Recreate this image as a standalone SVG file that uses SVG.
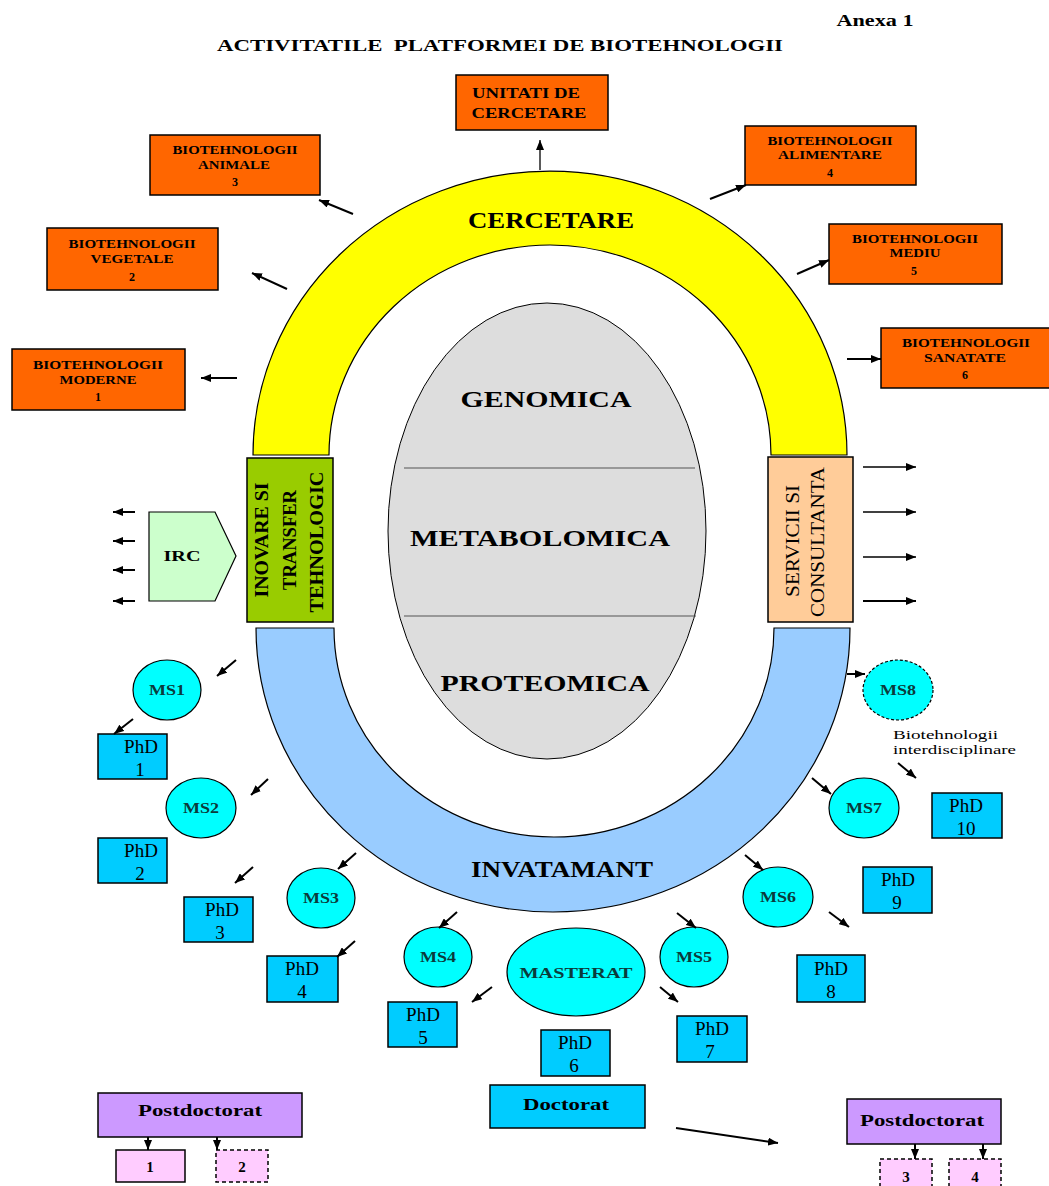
<svg xmlns="http://www.w3.org/2000/svg" width="1049" height="1186" viewBox="0 0 1049 1186">
<style>
text{font-family:"Liberation Serif","Times New Roman",serif;fill:#000}
.b{font-weight:bold}
.c{text-anchor:middle}
.org{fill:#FF6600;stroke:#000;stroke-width:1.5}
.phd{fill:#00CCFF;stroke:#000;stroke-width:1.5}
.ms{fill:#00FFFF;stroke:#000;stroke-width:1.2}
.mst{font-size:15px;font-weight:bold;text-anchor:middle;fill:#0b3b3b}
.pt{font-size:19px;text-anchor:middle}
.bt{font-size:12px;font-weight:bold;text-anchor:middle}
.big{font-size:24px;font-weight:bold;text-anchor:middle}
.ar{stroke:#000;stroke-width:2;fill:none;marker-end:url(#ah)}
.ar1{stroke:#000;stroke-width:1.3;fill:none;marker-end:url(#ah)}
.pink{fill:#FFCCFF;stroke:#000;stroke-width:1.5}
.dash{stroke-dasharray:4,3}
</style>
<defs>
<marker id="ah" markerUnits="userSpaceOnUse" markerWidth="10" markerHeight="8" refX="10" refY="4" orient="auto"><path d="M0,0 L10,4 L0,8 Z" fill="#000"/></marker>
</defs>
<rect width="1049" height="1186" fill="#fff"/>

<g id="title">
<text class="b c" x="500" y="51" font-size="16" textLength="566" lengthAdjust="spacingAndGlyphs" style="white-space:pre">ACTIVITATILE  PLATFORMEI DE BIOTEHNOLOGII</text>
<text class="b c" x="875" y="26" font-size="16" textLength="77" lengthAdjust="spacingAndGlyphs">Anexa 1</text>
</g>

<g id="cercetare">
<path d="M253,455 A297,284 0 0 1 847,455 L771,455 A221,210 0 0 0 329,455 Z" fill="#FFFF00" stroke="#000" stroke-width="1.2"/>
<text class="big" x="551" y="228" textLength="166" lengthAdjust="spacingAndGlyphs">CERCETARE</text>
</g>

<g id="invatamant">
<path d="M256,628 A297,284 0 0 0 850,628 L774,628 A220,209 0 0 1 334,628 Z" fill="#99CCFF" stroke="#000" stroke-width="1.2"/>
<text class="big" x="562" y="877" textLength="182" lengthAdjust="spacingAndGlyphs">INVATAMANT</text>
</g>

<g id="center">
<ellipse cx="547" cy="531" rx="159" ry="228" fill="#DDDDDD" stroke="#000" stroke-width="1"/>
<line x1="404" y1="468" x2="695" y2="468" stroke="#555" stroke-width="1.2"/>
<line x1="404" y1="616" x2="696" y2="616" stroke="#555" stroke-width="1.2"/>
<text class="big" x="546" y="407" textLength="171" lengthAdjust="spacingAndGlyphs">GENOMICA</text>
<text class="big" x="540" y="546" textLength="260" lengthAdjust="spacingAndGlyphs">METABOLOMICA</text>
<text class="big" x="545" y="691" textLength="209" lengthAdjust="spacingAndGlyphs">PROTEOMICA</text>
</g>

<g id="inovare">
<rect x="247" y="458" width="86" height="164" fill="#99CC00" stroke="#000" stroke-width="1.5"/>
<text class="b c" font-size="18" transform="translate(262,540) rotate(-90)" x="0" y="6" textLength="115" lengthAdjust="spacingAndGlyphs">INOVARE SI</text>
<text class="b c" font-size="18" transform="translate(290,540) rotate(-90)" x="0" y="6" textLength="100" lengthAdjust="spacingAndGlyphs">TRANSFER</text>
<text class="b c" font-size="18" transform="translate(317,542) rotate(-90)" x="0" y="6" textLength="141" lengthAdjust="spacingAndGlyphs">TEHNOLOGIC</text>
</g>

<g id="servicii">
<rect x="768" y="457" width="85" height="165" fill="#FFCC99" stroke="#000" stroke-width="1.5"/>
<text class="c" font-size="18" transform="translate(793,541) rotate(-90)" x="0" y="6" textLength="112" lengthAdjust="spacingAndGlyphs">SERVICII SI</text>
<text class="c" font-size="18" transform="translate(818,542) rotate(-90)" x="0" y="6" textLength="150" lengthAdjust="spacingAndGlyphs">CONSULTANTA</text>
</g>

<g id="irc">
<path d="M149,512 L215,512 L236,556 L215,601 L149,601 Z" fill="#CCFFCC" stroke="#000" stroke-width="1.2"/>
<text class="b c" x="182" y="561" font-size="15" textLength="37" lengthAdjust="spacingAndGlyphs">IRC</text>
</g>

<g id="unitati">
<rect class="org" x="456" y="75" width="152" height="55"/>
<text class="b c" x="526" y="98" font-size="14" textLength="108" lengthAdjust="spacingAndGlyphs">UNITATI DE</text>
<text class="b c" x="529" y="118" font-size="14" textLength="115" lengthAdjust="spacingAndGlyphs">CERCETARE</text>
</g>

<g id="bio3">
<rect class="org" x="150" y="135" width="170" height="60"/>
<text class="bt" x="235" y="154" textLength="125" lengthAdjust="spacingAndGlyphs">BIOTEHNOLOGII</text>
<text class="bt" x="234" y="169" textLength="72" lengthAdjust="spacingAndGlyphs">ANIMALE</text>
<text class="bt" x="235" y="186">3</text>
</g>

<g id="bio4">
<rect class="org" x="745" y="126" width="171" height="59"/>
<text class="bt" x="830" y="145" textLength="125" lengthAdjust="spacingAndGlyphs">BIOTEHNOLOGII</text>
<text class="bt" x="830" y="159" textLength="104" lengthAdjust="spacingAndGlyphs">ALIMENTARE</text>
<text class="bt" x="830" y="177">4</text>
</g>

<g id="bio2">
<rect class="org" x="47" y="228" width="171" height="62"/>
<text class="bt" x="132" y="248" textLength="127" lengthAdjust="spacingAndGlyphs">BIOTEHNOLOGII</text>
<text class="bt" x="132" y="263" textLength="83" lengthAdjust="spacingAndGlyphs">VEGETALE</text>
<text class="bt" x="132" y="281">2</text>
</g>

<g id="bio5">
<rect class="org" x="829" y="224" width="173" height="60"/>
<text class="bt" x="915" y="243" textLength="126" lengthAdjust="spacingAndGlyphs">BIOTEHNOLOGII</text>
<text class="bt" x="915" y="257" textLength="51" lengthAdjust="spacingAndGlyphs">MEDIU</text>
<text class="bt" x="914" y="275">5</text>
</g>

<g id="bio1">
<rect class="org" x="12" y="349" width="173" height="61"/>
<text class="bt" x="98" y="369" textLength="130" lengthAdjust="spacingAndGlyphs">BIOTEHNOLOGII</text>
<text class="bt" x="98" y="384" textLength="77" lengthAdjust="spacingAndGlyphs">MODERNE</text>
<text class="bt" x="98" y="401">1</text>
</g>

<g id="bio6">
<rect class="org" x="881" y="328" width="170" height="60"/>
<text class="bt" x="966" y="347" textLength="128" lengthAdjust="spacingAndGlyphs">BIOTEHNOLOGII</text>
<text class="bt" x="965" y="362" textLength="82" lengthAdjust="spacingAndGlyphs">SANATATE</text>
<text class="bt" x="965" y="379">6</text>
</g>

<g id="ms1"><ellipse class="ms" cx="167" cy="690" rx="34" ry="30"/><text class="mst" x="167" y="695" textLength="36" lengthAdjust="spacingAndGlyphs">MS1</text></g>
<g id="ms2"><ellipse class="ms" cx="201" cy="808" rx="35" ry="30"/><text class="mst" x="201" y="813" textLength="36" lengthAdjust="spacingAndGlyphs">MS2</text></g>
<g id="ms3"><ellipse class="ms" cx="321" cy="898" rx="34" ry="30"/><text class="mst" x="321" y="903" textLength="36" lengthAdjust="spacingAndGlyphs">MS3</text></g>
<g id="ms4"><ellipse class="ms" cx="438" cy="957" rx="34" ry="30"/><text class="mst" x="438" y="962" textLength="36" lengthAdjust="spacingAndGlyphs">MS4</text></g>
<g id="masterat"><ellipse class="ms" cx="576" cy="972" rx="69" ry="44"/><text class="mst" x="576" y="978" font-size="16" textLength="113" lengthAdjust="spacingAndGlyphs">MASTERAT</text></g>
<g id="ms5"><ellipse class="ms" cx="694" cy="957" rx="34" ry="30"/><text class="mst" x="694" y="962" textLength="36" lengthAdjust="spacingAndGlyphs">MS5</text></g>
<g id="ms6"><ellipse class="ms" cx="778" cy="897" rx="35" ry="30"/><text class="mst" x="778" y="902" textLength="36" lengthAdjust="spacingAndGlyphs">MS6</text></g>
<g id="ms7"><ellipse class="ms" cx="864" cy="808" rx="35" ry="30"/><text class="mst" x="864" y="813" textLength="36" lengthAdjust="spacingAndGlyphs">MS7</text></g>
<g id="ms8"><ellipse class="ms" cx="898" cy="690" rx="35" ry="30" stroke-dasharray="3,2"/><text class="mst" x="898" y="695" textLength="36" lengthAdjust="spacingAndGlyphs">MS8</text></g>

<g id="interdisciplinare">
<text x="893" y="739" font-size="13" fill="#333" textLength="105" lengthAdjust="spacingAndGlyphs">Biotehnologii</text>
<text x="893" y="754" font-size="13" fill="#333" textLength="123" lengthAdjust="spacingAndGlyphs">interdisciplinare</text>
</g>

<g id="phd1"><rect class="phd" x="98" y="734" width="69" height="45"/><text class="pt" x="141" y="753">PhD</text><text class="pt" x="140" y="776">1</text></g>
<g id="phd2"><rect class="phd" x="98" y="838" width="69" height="45"/><text class="pt" x="141" y="857">PhD</text><text class="pt" x="140" y="880">2</text></g>
<g id="phd3"><rect class="phd" x="184" y="897" width="69" height="45"/><text class="pt" x="222" y="916">PhD</text><text class="pt" x="220" y="939">3</text></g>
<g id="phd4"><rect class="phd" x="267" y="956" width="71" height="46"/><text class="pt" x="302" y="975">PhD</text><text class="pt" x="302" y="998">4</text></g>
<g id="phd5"><rect class="phd" x="388" y="1002" width="69" height="45"/><text class="pt" x="423" y="1021">PhD</text><text class="pt" x="423" y="1044">5</text></g>
<g id="phd6"><rect class="phd" x="541" y="1030" width="69" height="46"/><text class="pt" x="575" y="1049">PhD</text><text class="pt" x="574" y="1072">6</text></g>
<g id="phd7"><rect class="phd" x="677" y="1016" width="70" height="46"/><text class="pt" x="712" y="1035">PhD</text><text class="pt" x="710" y="1058">7</text></g>
<g id="phd8"><rect class="phd" x="797" y="955" width="68" height="47"/><text class="pt" x="831" y="975">PhD</text><text class="pt" x="831" y="998">8</text></g>
<g id="phd9"><rect class="phd" x="863" y="867" width="69" height="46"/><text class="pt" x="898" y="886">PhD</text><text class="pt" x="897" y="909">9</text></g>
<g id="phd10"><rect class="phd" x="932" y="793" width="70" height="45"/><text class="pt" x="966" y="812">PhD</text><text class="pt" x="966" y="835">10</text></g>

<g id="doctorat"><rect class="phd" x="490" y="1085" width="155" height="43"/><text class="b c" x="566" y="1110" font-size="16" textLength="86" lengthAdjust="spacingAndGlyphs">Doctorat</text></g>

<g id="postdoc1">
<rect x="98" y="1093" width="204" height="44" fill="#CC99FF" stroke="#000" stroke-width="1.5"/>
<text class="b c" x="200" y="1116" font-size="16" textLength="124" lengthAdjust="spacingAndGlyphs">Postdoctorat</text>
</g>
<g id="pd1"><rect class="pink" x="116" y="1150" width="69" height="32"/><text class="b c" x="150" y="1172" font-size="15">1</text></g>
<g id="pd2"><rect class="pink dash" x="216" y="1150" width="52" height="32"/><text class="b c" x="242" y="1172" font-size="15">2</text></g>

<g id="postdoc2">
<rect x="847" y="1099" width="154" height="45" fill="#CC99FF" stroke="#000" stroke-width="1.5"/>
<text class="b c" x="922" y="1126" font-size="16" textLength="124" lengthAdjust="spacingAndGlyphs">Postdoctorat</text>
</g>
<g id="pd3"><rect class="pink dash" x="880" y="1159" width="52" height="32"/><text class="b c" x="906" y="1182" font-size="15">3</text></g>
<g id="pd4"><rect class="pink dash" x="949" y="1159" width="52" height="32"/><text class="b c" x="975" y="1182" font-size="15">4</text></g>

<g id="connectors">
<line class="ar1" x1="540" y1="170" x2="540" y2="140"/>
<line class="ar" x1="353" y1="214" x2="319" y2="200"/>
<line class="ar" x1="287" y1="289" x2="252" y2="273"/>
<line class="ar" x1="237" y1="378" x2="201" y2="378"/>
<line class="ar" x1="710" y1="199" x2="746" y2="185"/>
<line class="ar" x1="797" y1="274" x2="829" y2="260"/>
<line class="ar" x1="847" y1="359" x2="881" y2="359"/>

<line class="ar1" x1="863" y1="467" x2="916" y2="467"/>
<line class="ar1" x1="863" y1="512" x2="916" y2="512"/>
<line class="ar1" x1="863" y1="557" x2="916" y2="557"/>
<line class="ar" x1="863" y1="601" x2="916" y2="601"/>

<line class="ar" x1="135" y1="512" x2="113" y2="512"/>
<line class="ar" x1="135" y1="541" x2="113" y2="541"/>
<line class="ar" x1="135" y1="570" x2="113" y2="570"/>
<line class="ar" x1="135" y1="601" x2="113" y2="601"/>

<line class="ar" x1="236" y1="660" x2="217" y2="676"/>
<line class="ar" x1="133" y1="719" x2="114" y2="734"/>
<line class="ar" x1="268" y1="779" x2="251" y2="795"/>
<line class="ar" x1="253" y1="867" x2="235" y2="883"/>
<line class="ar" x1="356" y1="853" x2="338" y2="869"/>
<line class="ar" x1="355" y1="941" x2="337" y2="957"/>
<line class="ar" x1="457" y1="912" x2="439" y2="928"/>
<line class="ar" x1="492" y1="987" x2="472" y2="1002"/>
<line class="ar" x1="677" y1="913" x2="696" y2="928"/>
<line class="ar" x1="660" y1="987" x2="678" y2="1002"/>
<line class="ar" x1="745" y1="855" x2="763" y2="870"/>
<line class="ar" x1="829" y1="912" x2="849" y2="927"/>
<line class="ar" x1="812" y1="778" x2="831" y2="794"/>
<line class="ar" x1="898" y1="763" x2="916" y2="778"/>
<line class="ar" x1="847" y1="674" x2="865" y2="674"/>

<line class="ar" x1="676" y1="1128" x2="778" y2="1143"/>
<line class="ar" x1="148" y1="1137" x2="148" y2="1150"/>
<line class="ar" x1="217" y1="1137" x2="217" y2="1150"/>
<line class="ar" x1="915" y1="1144" x2="915" y2="1159"/>
<line class="ar" x1="983" y1="1144" x2="983" y2="1159"/>
</g>
</svg>
